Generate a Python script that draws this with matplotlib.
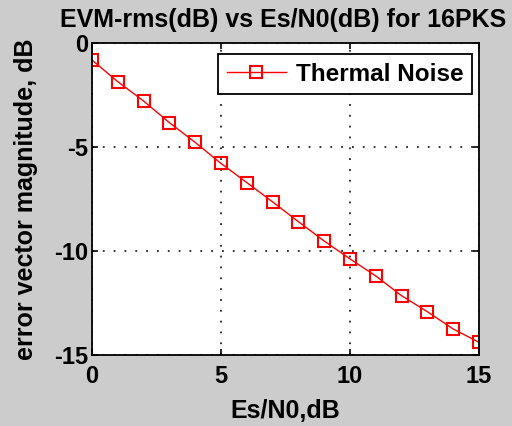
import matplotlib
matplotlib.use("Agg")
import matplotlib.pyplot as plt

esn0 = [0, 1, 2, 3, 4, 5, 6, 7, 8, 9, 10, 11, 12, 13, 14, 15]
evm_db = [-0.82, -1.86, -2.79, -3.83, -4.78, -5.79, -6.71, -7.64,
          -8.59, -9.52, -10.38, -11.2, -12.15, -12.92, -13.75, -14.39]
xticks = [0, 5, 10, 15]
yticks = [-15, -10, -5, 0]

plt.rcParams['font.family'] = ['Liberation Sans', 'DejaVu Sans']
plt.rcParams['font.weight'] = 'bold'
plt.rcParams['axes.unicode_minus'] = False

fig = plt.figure(figsize=(5.12, 4.26), dpi=100, facecolor='#cccccc')
W, H = 512, 426
ax = fig.add_axes([92 / W, 1 - 355 / H, (479 - 92) / W, (355 - 43) / H])
ax.set_facecolor('white')

ax.plot(esn0, evm_db, color='red', lw=1.0, marker='s', ms=8.5, mfc='none',
        mec='red', mew=1.5, label='Thermal Noise')

ax.set_xlim(0, 15)
ax.set_ylim(-15, 0)
ax.set_xticks(xticks)
ax.set_yticks(yticks)
ax.grid(True, color='#222222', linestyle=(0, (1, 5)), linewidth=1.3)
ax.tick_params(direction='in', length=4, width=1.2, labelsize=17, top=True, right=True)
ax.tick_params(axis='x', pad=7)
ax.tick_params(axis='y', pad=3)
for s in ax.spines.values():
    s.set_linewidth(1.3)

fig.text(60 / W, 1 - 27 / H, 'EVM-rms(dB) vs Es/N0(dB) for 16PKS', fontsize=18.0,
         fontweight='bold', ha='left', va='baseline')
ax.set_xlabel('Es/N0,dB', fontsize=18, fontweight='bold', labelpad=8)
ax.set_ylabel('error vector magnitude, dB', fontsize=18, fontweight='bold', labelpad=11)

leg = ax.legend(loc='upper right', fontsize=17.5, frameon=True, fancybox=False,
                edgecolor='black', framealpha=1, handlelength=2.45,
                borderpad=0.35, handletextpad=0.4, borderaxespad=0,
                bbox_to_anchor=((472 - 92) / 387, (355 - 54) / 312))
leg.get_frame().set_linewidth(1.3)

fig.savefig('out.png', dpi=100, facecolor=fig.get_facecolor())
